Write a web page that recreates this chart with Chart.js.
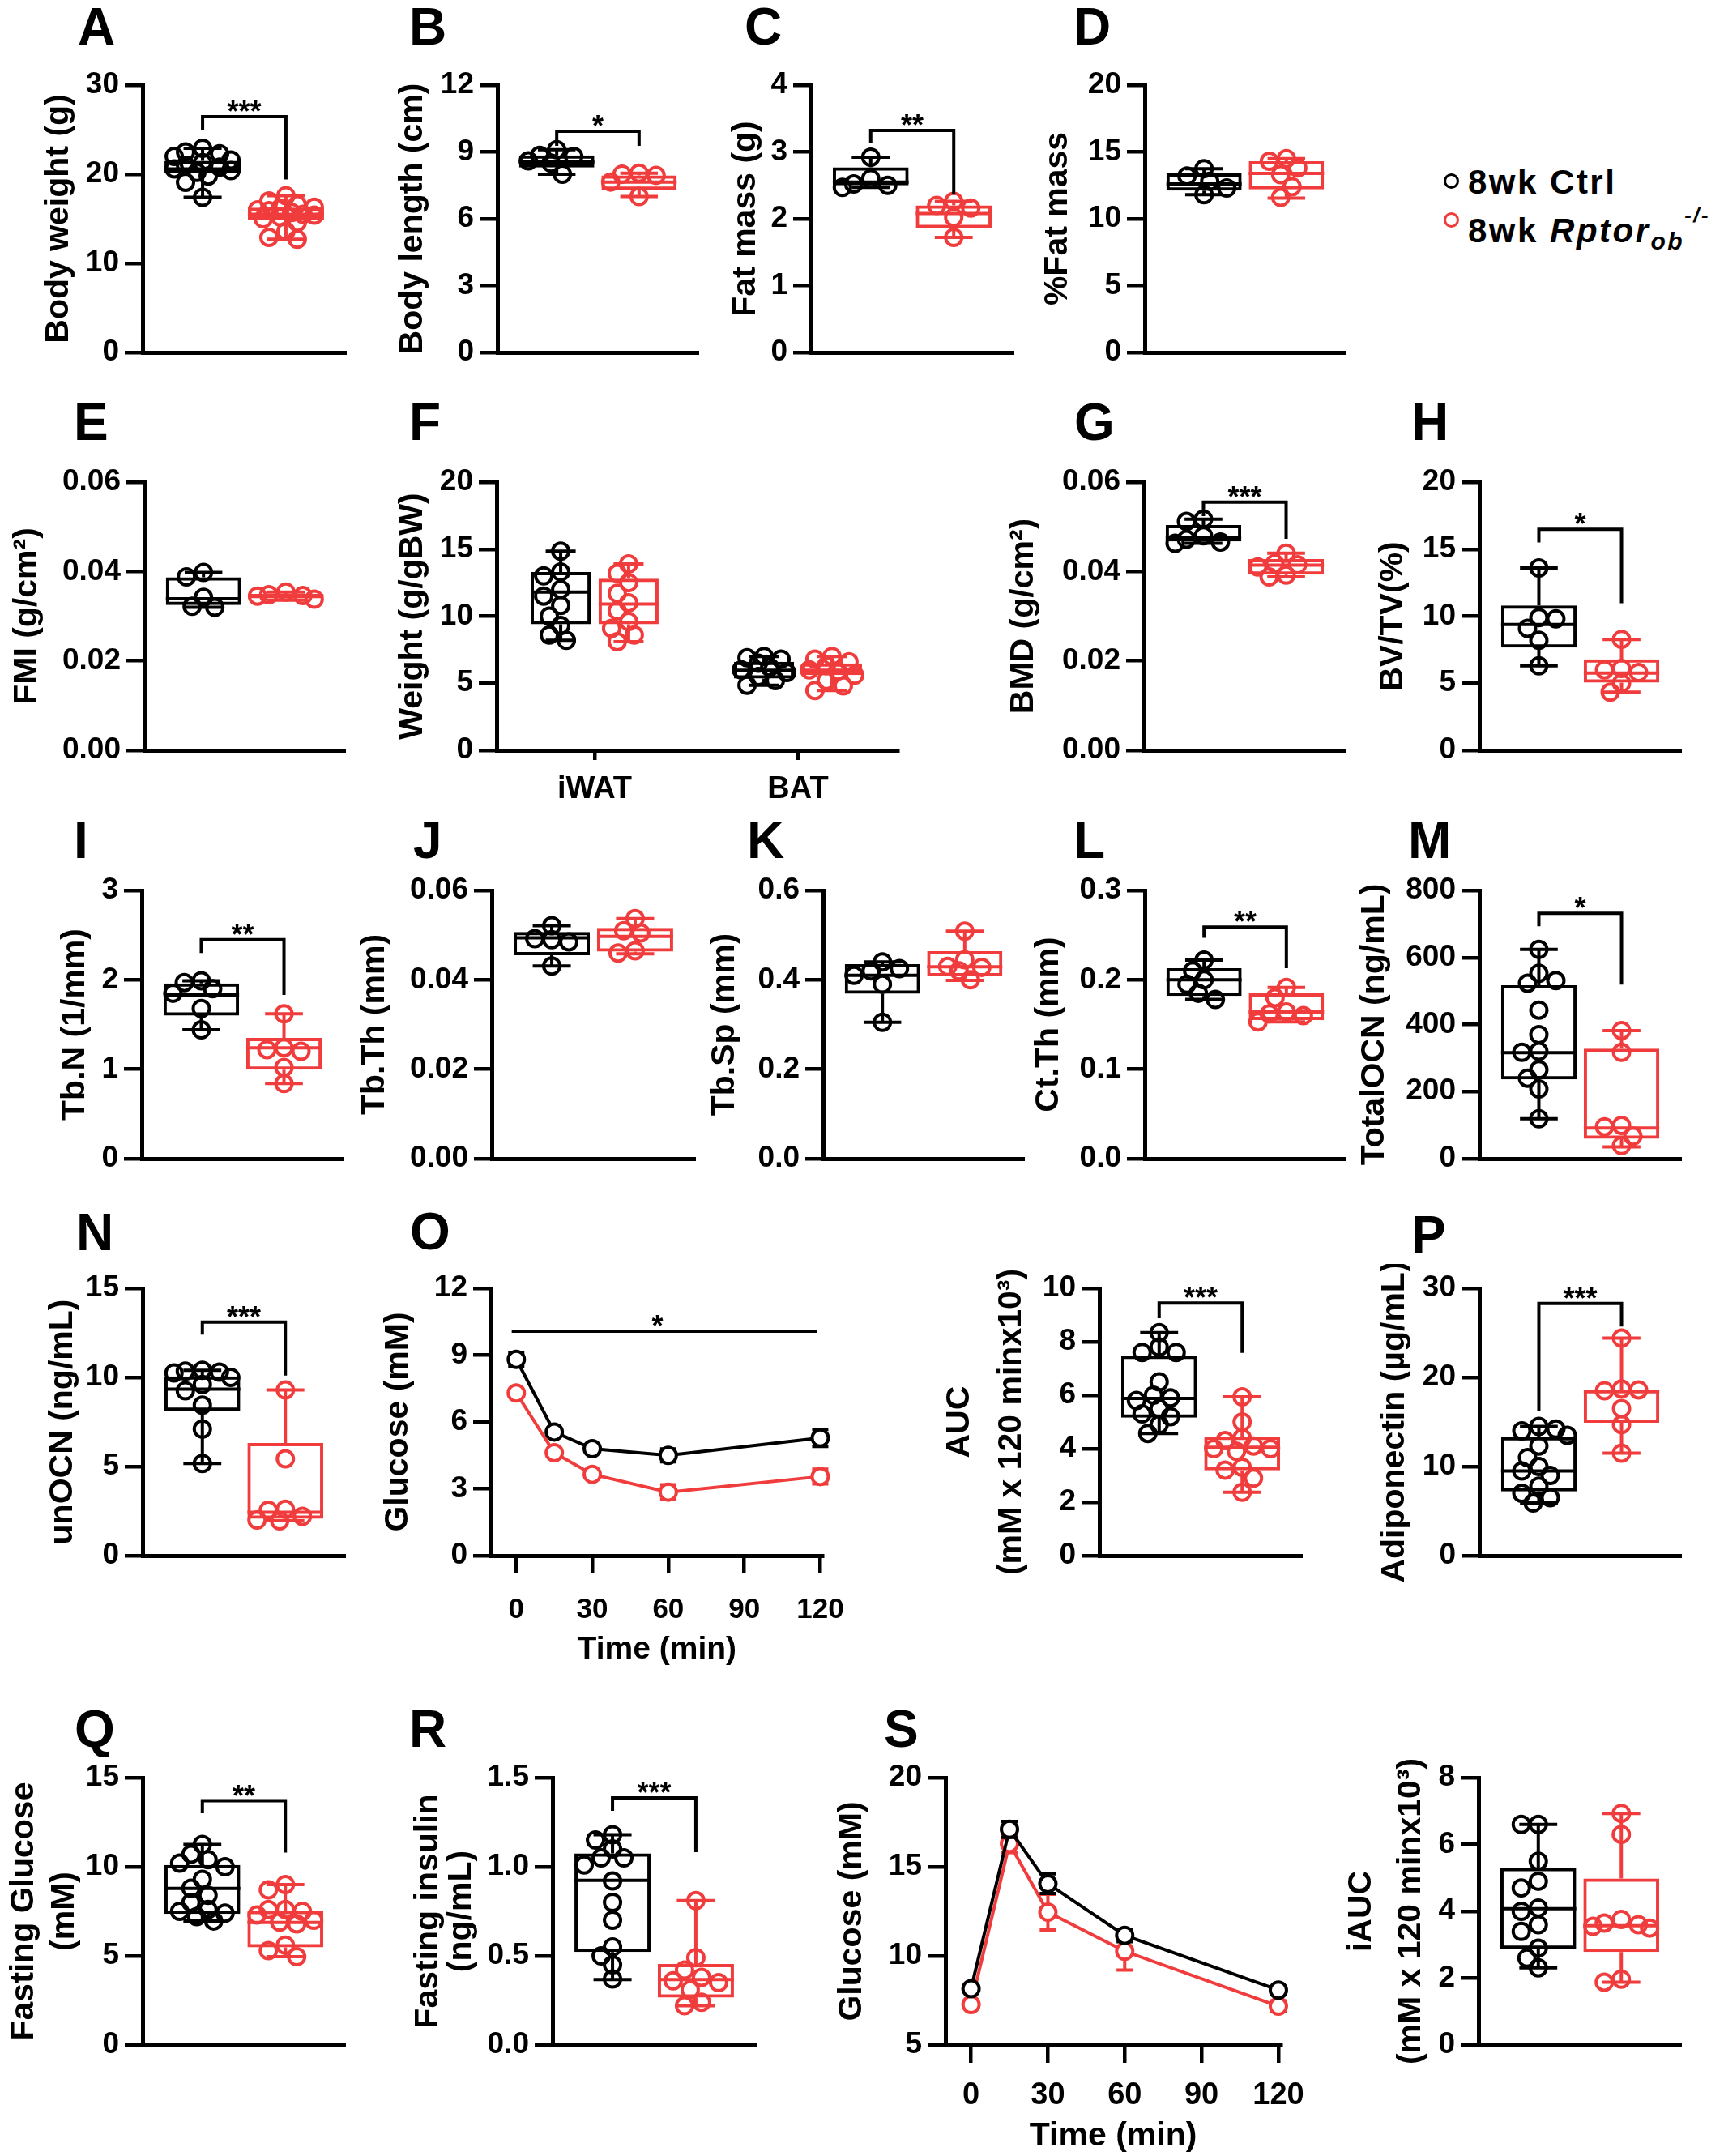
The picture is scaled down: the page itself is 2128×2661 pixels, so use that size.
<!DOCTYPE html>
<html><head><meta charset="utf-8">
<script src="https://cdn.jsdelivr.net/npm/chart.js@4.4.1/dist/chart.umd.min.js"></script>
<style>
html,body{margin:0;padding:0;background:#fff;}
#fig{position:relative;width:2128px;height:2661px;overflow:hidden;font-family:'Liberation Sans',Arial,Helvetica,sans-serif;background:#fff;}
.pl{position:absolute;font-weight:bold;font-size:64px;line-height:1;color:#000;}
canvas{position:absolute;}
.leg{position:absolute;font-weight:bold;font-size:42px;letter-spacing:2.5px;line-height:1;white-space:nowrap;color:#000;}
.dot{position:absolute;width:13px;height:13px;border:3px solid;border-radius:50%;}
</style></head><body><div id="fig"></div>
<script>
// ---------------- DATA ----------------
const GROUPS = ['8wk Ctrl', '8wk Rptor'];
// box stats arrays are [min, q1, median, q3, max]
const A_ctrl = [22.9, 22.5, 22.3, 22.0, 21.6, 21.3, 21.0, 20.8, 20.6, 20.4, 20.2, 19.8, 19.1, 17.4];
const A_ko = [17.6, 17.0, 16.6, 16.3, 16.2, 16.0, 15.9, 15.7, 15.5, 15.4, 15.2, 15.0, 14.6, 13.6, 12.9, 12.7];
const A_ctrlBox = [17.4, 20.1, 20.6, 21.5, 22.9];
const A_koBox = [12.7, 14.9, 15.5, 16.25, 17.6];
const A_ticks = [0, 10, 20, 30];

const B_ctrl = [9.1, 8.85, 8.8, 8.6, 8.5, 8.0];
const B_ko = [8.05, 8.0, 7.95, 7.65, 7.0];
const B_ctrlBox = [8.0, 8.3, 8.55, 8.85, 9.1];
const B_koBox = [7.0, 7.3, 7.65, 7.95, 8.05];
const B_ticks = [0, 3, 6, 9, 12];

const C_ctrl = [2.92, 2.6, 2.52, 2.5, 2.47];
const C_ko = [2.26, 2.2, 2.16, 2.02, 1.72];
const C_ctrlBox = [2.47, 2.5, 2.55, 2.77, 2.92];
const C_koBox = [1.72, 1.86, 2.08, 2.2, 2.26];
const C_ticks = [0, 1, 2, 3, 4];

const D_ctrl = [13.75, 13.2, 12.8, 12.3, 11.8];
const D_ko = [14.5, 14.3, 13.8, 13.3, 12.4, 11.6];
const D_ctrlBox = [11.8, 12.1, 12.6, 13.4, 13.75];
const D_koBox = [11.55, 12.2, 13.4, 14.3, 14.5];
const D_ticks = [0, 5, 10, 15, 20];

const E_ctrl = [0.0398, 0.0388, 0.0342, 0.0322, 0.0320];
const E_ko = [0.0354, 0.0348, 0.0346, 0.0345, 0.0338];
const E_ctrlBox = [0.0320, 0.0325, 0.0339, 0.0387, 0.0398];
const E_koBox = [0.0336, 0.0340, 0.0346, 0.0350, 0.0354];
const E_ticks = [0, 0.02, 0.04, 0.06];

const F_categories = ['iWAT', 'BAT'];
const F_iWAT_ctrl = [14.85, 13.3, 13.0, 12.0, 11.5, 10.8, 10.0, 9.3, 8.6, 8.2];
const F_iWAT_ko = [13.9, 13.2, 12.5, 11.7, 11.0, 10.4, 9.6, 9.1, 8.6, 8.1];
const F_BAT_ctrl = [7.0, 6.9, 6.8, 6.5, 6.2, 6.0, 5.8, 5.5, 5.2, 4.85];
const F_BAT_ko = [7.0, 6.8, 6.6, 6.3, 6.0, 5.9, 5.6, 5.2, 4.8, 4.45];
const F_iWAT_ctrlBox = [8.2, 9.4, 11.8, 13.3, 14.85];
const F_iWAT_koBox = [8.1, 9.4, 10.9, 12.8, 13.9];
const F_BAT_ctrlBox = [4.85, 5.35, 5.96, 6.6, 7.0];
const F_BAT_koBox = [4.45, 5.6, 5.96, 6.48, 7.0];
const F_ticks = [0, 5, 10, 15, 20];

const G_ctrl = [0.0517, 0.0512, 0.0480, 0.0472, 0.0466, 0.0463];
const G_ko = [0.0441, 0.0418, 0.0415, 0.0410, 0.0392, 0.0388];
const G_ctrlBox = [0.0463, 0.0467, 0.0475, 0.0504, 0.0517];
const G_koBox = [0.0388, 0.0393, 0.0414, 0.0428, 0.0441];
const G_ticks = [0, 0.02, 0.04, 0.06];

const H_ctrl = [9.9, 9.1, 13.6, 6.3, 9.8, 8.2];
const H_ko = [6.1, 8.27, 6.0, 5.8, 5.0, 4.33];
const H_ctrlBox = [6.3, 7.66, 9.38, 10.8, 13.6];
const H_koBox = [4.33, 5.05, 5.76, 6.78, 8.27];
const H_ticks = [0, 5, 10, 15, 20];

const I_ctrl = [1.99, 1.97, 1.9, 1.85, 1.68, 1.44];
const I_ko = [1.62, 1.24, 1.22, 1.2, 1.02, 0.84];
const I_ctrlBox = [1.44, 1.6, 1.83, 1.96, 1.99];
const I_koBox = [0.84, 0.995, 1.24, 1.35, 1.62];
const I_ticks = [0, 1, 2, 3];

const J_ctrl = [0.0521, 0.0490, 0.0492, 0.0485, 0.0431];
const J_ko = [0.0537, 0.0510, 0.0505, 0.0465, 0.0460];
const J_ctrlBox = [0.0431, 0.0455, 0.0494, 0.0507, 0.0521];
const J_koBox = [0.0458, 0.0463, 0.0497, 0.0516, 0.0537];
const J_ticks = [0, 0.02, 0.04, 0.06];

const K_ctrl = [0.44, 0.42, 0.425, 0.41, 0.39, 0.305];
const K_ko = [0.509, 0.445, 0.43, 0.428, 0.42, 0.40];
const K_ctrlBox = [0.305, 0.369, 0.41, 0.435, 0.44];
const K_koBox = [0.399, 0.408, 0.429, 0.464, 0.509];
const K_ticks = [0, 0.2, 0.4, 0.6];

const L_ctrl = [0.222, 0.21, 0.2, 0.195, 0.185, 0.178];
const L_ko = [0.1915, 0.18, 0.164, 0.162, 0.16, 0.153];
const L_ctrlBox = [0.178, 0.182, 0.2, 0.213, 0.222];
const L_koBox = [0.153, 0.155, 0.164, 0.185, 0.1915];
const L_ticks = [0, 0.1, 0.2, 0.3];

const M_ctrl = [624, 553, 523, 531, 443, 370, 320, 317, 265, 240, 208, 119];
const M_ko = [382, 317, 99, 95, 67, 39];
const M_ctrlBox = [119, 236, 316, 517, 624];
const M_koBox = [35, 59, 91, 328, 382];
const M_ticks = [0, 200, 400, 600, 800];

const N_ctrl = [10.4, 10.35, 10.3, 10.25, 10.0, 9.6, 9.25, 8.44, 7.1, 5.17];
const N_ko = [9.29, 5.43, 2.6, 2.55, 2.2, 2.0, 1.95];
const N_ctrlBox = [5.17, 8.12, 9.34, 10.06, 10.4];
const N_koBox = [1.95, 2.07, 2.43, 6.32, 9.29];
const N_ticks = [0, 5, 10, 15];

const O_time = [0, 15, 30, 60, 120];
const O_ctrlMean = [8.81, 5.55, 4.8, 4.5, 5.28];
const O_ctrlSem = [0.3, 0.15, 0.12, 0.29, 0.38];
const O_koMean = [7.3, 4.62, 3.65, 2.85, 3.55];
const O_koSem = [0.15, 0.15, 0.12, 0.33, 0.33];
const O_ticks = [0, 3, 6, 9, 12];
const O_timeTicks = [0, 30, 60, 90, 120];

const AUC_ctrl = [8.34, 7.8, 7.6, 7.6, 6.5, 6.0, 5.9, 5.8, 5.5, 5.3, 5.2, 4.9, 4.57];
const AUC_ko = [5.94, 5.0, 4.4, 4.3, 4.1, 4.0, 4.0, 3.9, 3.3, 3.2, 2.9, 2.37];
const AUC_ctrlBox = [4.57, 5.16, 5.88, 7.48, 8.34];
const AUC_koBox = [2.37, 3.19, 4.05, 4.45, 5.94];
const AUC_ticks = [0, 2, 4, 6, 8, 10];

const P_ctrl = [14.5, 14.0, 14.2, 13.5, 12.3, 11.0, 10.0, 9.5, 9.0, 7.8, 7.0, 6.5, 5.9];
const P_ko = [24.4, 18.7, 18.5, 18.6, 16.5, 14.7, 11.5];
const P_ctrlBox = [5.9, 7.2, 9.5, 13.3, 14.5];
const P_koBox = [11.5, 14.9, 18.4, 18.6, 24.4];
const P_ticks = [0, 10, 20, 30];

const Q_ctrl = [11.25, 10.7, 10.4, 10.2, 10.0, 9.3, 8.8, 8.4, 8.0, 7.6, 7.5, 7.4, 7.2, 6.96];
const Q_ko = [9.0, 8.7, 7.6, 7.6, 7.5, 7.3, 7.0, 6.9, 6.8, 5.6, 5.3, 4.95];
const Q_ctrlBox = [6.96, 7.35, 8.78, 10.1, 11.25];
const Q_koBox = [4.95, 5.48, 6.88, 7.52, 9.0];
const Q_ticks = [0, 5, 10, 15];

const R_ctrl = [1.18, 1.15, 1.1, 1.05, 1.05, 1.01, 0.92, 0.8, 0.7, 0.55, 0.5, 0.45, 0.37];
const R_ko = [0.81, 0.49, 0.42, 0.38, 0.36, 0.35, 0.31, 0.24, 0.22];
const R_ctrlBox = [0.367, 0.522, 0.924, 1.075, 1.18];
const R_koBox = [0.22, 0.266, 0.367, 0.455, 0.81];
const R_ticks = [0, 0.5, 1.0, 1.5];

const S_time = [0, 15, 30, 60, 120];
const S_ctrlMean = [8.16, 17.1, 14.05, 11.15, 8.08];
const S_ctrlSem = [0.15, 0.45, 0.55, 0.35, 0.15];
const S_koMean = [7.27, 16.3, 12.45, 10.26, 7.18];
const S_koSem = [0.15, 0.5, 1.0, 1.05, 0.3];
const S_ticks = [5, 10, 15, 20];
const S_timeTicks = [0, 30, 60, 90, 120];

const iAUC_ctrl = [6.6, 6.6, 5.5, 4.9, 4.7, 4.1, 4.0, 3.6, 3.4, 2.9, 2.6, 2.31];
const iAUC_ko = [6.93, 6.3, 3.76, 3.65, 3.6, 3.55, 3.5, 1.97, 1.88];
const iAUC_ctrlBox = [2.31, 2.88, 4.08, 5.3, 6.6];
const iAUC_koBox = [1.88, 2.78, 3.57, 4.98, 6.93];
const iAUC_ticks = [0, 2, 4, 6, 8];

// significance brackets: [top, left-leg end, right-leg end] in data units
const A_sig = ['***', [26.45, 24.9, 19.4]];
const B_sig = ['*', [9.93, 9.27, 9.27]];
const C_sig = ['**', [3.32, 3.13, 2.36]];
const G_sig = ['***', [0.0555, 0.0524, 0.0473]];
const H_sig = ['*', [16.48, 15.5, 10.97]];
const I_sig = ['**', [2.45, 2.3, 1.83]];
const L_sig = ['**', [0.259, 0.247, 0.213]];
const M_sig = ['*', [732, 693, 519]];
const N_sig = ['***', [13.1, 12.4, 10.1]];
const AUC_sig = ['***', [9.45, 8.88, 7.58]];
const P_sig = ['***', [28.3, 16.2, 25.7]];
const Q_sig = ['**', [13.7, 13.0, 10.8]];
const R_sig = ['***', [1.386, 1.314, 1.082]];
const O_sig = ['*', 10.07, [-1.8, 118.8], 55.7];

// ---------------- STYLE / LAYOUT ----------------
const BLACK = '#000000', RED = '#f03c3c';
const FAM = "'Liberation Sans', Arial, Helvetica, sans-serif";
const fig = document.getElementById('fig');
Chart.defaults.font.family = FAM;
Chart.defaults.color = '#000';

const LW = 4, AXW = 5, PR = 10, TICKF = 37;

function swarm(values, center, halfUnits, g) {
  const r = PR, minD = 2 * r - 3, step = 7;
  const maxOff = Math.max(0, halfUnits * g.xppu - 8);
  const cands = [0];
  for (let k = 1; k * step <= maxOff; k++) { cands.push(-k * step, k * step); }
  const placed = [], out = [];
  values.forEach(v => {
    const yp = v * g.yppu;
    let best = 0, bestScore = -1;
    for (const c of cands) {
      let md = Infinity;
      for (const p of placed) { const d = Math.hypot(p.x - c, p.y - yp); if (d < md) md = d; }
      if (md >= minD) { best = c; break; }
      if (md > bestScore) { bestScore = md; best = c; }
    }
    placed.push({x: best, y: yp});
    out.push({x: center + best / g.xppu, y: v});
  });
  return out;
}

function sigPlugin(items) {
  return {
    id: 'sig',
    afterDatasetsDraw(chart) {
      const ctx = chart.ctx, xs = chart.scales.x, ys = chart.scales.y;
      items.forEach(it => {
        ctx.save();
        ctx.strokeStyle = '#000'; ctx.lineWidth = LW; ctx.lineJoin = 'miter'; ctx.lineCap = 'butt';
        ctx.beginPath();
        let topY, cx;
        if (it.type === 'bracket') {
          const x1 = xs.getPixelForValue(it.x[0]), x2 = xs.getPixelForValue(it.x[1]);
          topY = ys.getPixelForValue(it.y[0]);
          ctx.moveTo(x1, ys.getPixelForValue(it.y[1]));
          ctx.lineTo(x1, topY);
          ctx.lineTo(x2, topY);
          ctx.lineTo(x2, ys.getPixelForValue(it.y[2]));
          cx = (x1 + x2) / 2;
        } else {
          topY = ys.getPixelForValue(it.y);
          ctx.moveTo(xs.getPixelForValue(it.x[0]), topY);
          ctx.lineTo(xs.getPixelForValue(it.x[1]), topY);
          cx = xs.getPixelForValue(it.tx);
        }
        ctx.stroke();
        ctx.fillStyle = '#000';
        ctx.font = 'bold 36px ' + FAM;
        ctx.textAlign = 'center';
        ctx.textBaseline = 'alphabetic';
        ctx.fillText(it.text, cx, topY + 6);
        ctx.restore();
      });
    }
  };
}

function yAxis(p, yAxisW, lhMul, padTop) {
  return {
    type: 'linear', position: 'left',
    min: p.ticks[0], max: p.ticks[p.ticks.length - 1],
    grid: {display: true, drawOnChartArea: false, drawTicks: true, tickLength: 22, tickWidth: 4.5, lineWidth: 4.5, color: '#000'},
    border: {display: true, width: AXW, color: '#000'},
    ticks: {color: '#000', padding: 7, font: {size: TICKF, weight: 'bold', family: FAM},
      callback: v => Number(v).toFixed(p.dec || 0)},
    afterBuildTicks: s => { s.ticks = p.ticks.map(v => ({value: v})); },
    afterFit: s => { s.width = yAxisW; },
    title: {display: true, text: p.title, color: '#000',
      font: {size: 41, weight: 'bold', family: FAM, lineHeight: lhMul},
      padding: {top: padTop, bottom: 0}}
  };
}

function buildPanel(p) {
  const lhMul = p.lh || 1.2;
  const lh = lhMul * 41;
  const cl = Math.round(p.titleX - lh / 2 - 4);
  const padTop = p.titleX - lh / 2 - cl;
  const PT = 30, PRt = 45, XH = p.xh || 30, PB = 2;
  const ct = p.T - PT;
  const cw = p.R - cl + PRt;
  const ch = PT + (p.B - p.T) + XH + PB;
  const yAxisW = p.L - cl;
  const cv = document.createElement('canvas');
  cv.width = cw; cv.height = ch;
  cv.style.left = cl + 'px'; cv.style.top = ct + 'px';
  cv.style.width = cw + 'px'; cv.style.height = ch + 'px';
  fig.appendChild(cv);

  const g = {xppu: (p.R - p.L) / (p.xMax - p.xMin), yppu: (p.B - p.T) / (p.ticks[p.ticks.length - 1] - p.ticks[0])};
  const datasets = [];
  const plugins = [];

  if (p.kind === 'box') {
    const half = p.boxRatio * p.minInt / 2;
    datasets.push({
      type: 'bar',
      data: p.groups.map(gr => ({x: gr.x, y: [gr.box[1], gr.box[3]]})),
      backgroundColor: 'rgba(0,0,0,0)',
      borderColor: p.groups.map(gr => gr.color),
      borderWidth: LW, borderSkipped: false, grouped: false,
      barPercentage: 1, categoryPercentage: p.boxRatio,
      order: 5, clip: false
    });
    p.groups.forEach(gr => {
      const c = gr.x, cw2 = half * 0.5;
      const [mn, q1, md, q3, mx] = gr.box;
      const gap = () => ({x: c, y: null});
      datasets.push({
        type: 'line',
        data: [{x: c - half, y: md}, {x: c + half, y: md}, gap(),
               {x: c, y: q3}, {x: c, y: mx}, gap(),
               {x: c - cw2, y: mx}, {x: c + cw2, y: mx}, gap(),
               {x: c, y: q1}, {x: c, y: mn}, gap(),
               {x: c - cw2, y: mn}, {x: c + cw2, y: mn}],
        borderColor: gr.color, borderWidth: LW, pointRadius: 0, spanGaps: false,
        fill: false, tension: 0, order: 4, clip: false
      });
      datasets.push({
        type: 'scatter',
        data: swarm(gr.pts, c, half, g),
        pointRadius: PR, pointBorderWidth: LW, pointBorderColor: gr.color,
        pointBackgroundColor: 'rgba(0,0,0,0)', pointHoverRadius: PR,
        order: gr.color === BLACK ? 1 : 2, clip: false
      });
    });
    if (p.sig) {
      plugins.push(sigPlugin([{type: 'bracket', x: [1, 2], y: p.sig[1], text: p.sig[0]}]));
    }
  } else {
    p.series.forEach((s, si) => {
      const err = [];
      s.time.forEach((t, i) => {
        const lo = s.mean[i] - s.sem[i], hi = s.mean[i] + s.sem[i];
        err.push({x: t, y: lo}, {x: t, y: hi}, {x: t, y: null},
                 {x: t - 3.2, y: hi}, {x: t + 3.2, y: hi}, {x: t, y: null},
                 {x: t - 3.2, y: lo}, {x: t + 3.2, y: lo}, {x: t, y: null});
      });
      datasets.push({
        type: 'line', data: s.time.map((t, i) => ({x: t, y: s.mean[i]})),
        borderColor: s.color, borderWidth: LW, pointRadius: PR, pointBorderWidth: LW,
        pointBorderColor: s.color, pointBackgroundColor: '#ffffff', pointHoverRadius: PR,
        fill: false, tension: 0, order: si * 2, clip: false
      });
      datasets.push({
        type: 'line', data: err, borderColor: s.color, borderWidth: LW, pointRadius: 0,
        spanGaps: false, fill: false, tension: 0, order: si * 2 + 1, clip: false
      });
    });
    if (p.sig) {
      plugins.push(sigPlugin([{type: 'line', y: p.sig[1], x: p.sig[2], tx: p.sig[3], text: p.sig[0]}]));
    }
  }

  let xAxis;
  if (p.kind === 'box') {
    xAxis = {
      type: 'linear', position: 'bottom', min: p.xMin, max: p.xMax, offset: false,
      grid: p.xLabels ? {display: true, drawOnChartArea: false, drawTicks: true, tickLength: 12, tickWidth: 4.5, lineWidth: 4.5, color: '#000', offset: false}
                      : {display: false, offset: false},
      border: {display: true, width: AXW, color: '#000'},
      ticks: p.xLabels ? {display: true, color: '#000', padding: 14, font: {size: 38, weight: 'bold', family: FAM},
                          callback: v => p.xLabels[Math.round(v) - 1]}
                       : {display: false},
      afterBuildTicks: s => { s.ticks = p.xTicks.map(v => ({value: v})); },
      afterFit: s => { s.height = XH; }
    };
  } else {
    xAxis = {
      type: 'linear', position: 'bottom', min: p.xMin, max: p.xMax, offset: false,
      grid: {display: true, drawOnChartArea: false, drawTicks: true, tickLength: 22, tickWidth: 4.5, lineWidth: 4.5, color: '#000', offset: false},
      border: {display: true, width: AXW, color: '#000'},
      ticks: {display: true, color: '#000', padding: p.xPad, font: {size: p.xFont, weight: 'bold', family: FAM}},
      afterBuildTicks: s => { s.ticks = p.xTicks.map(v => ({value: v})); },
      afterFit: s => { s.height = XH; },
      title: {display: true, text: 'Time (min)', color: '#000', font: {size: p.xTitleFont, weight: 'bold', family: FAM}, padding: {top: 0, bottom: 0}}
    };
  }

  new Chart(cv, {
    type: 'scatter',
    data: {datasets},
    options: {
      responsive: false, animation: false, devicePixelRatio: 1, events: [],
      layout: {padding: {top: PT, right: PRt, bottom: PB, left: 0}},
      plugins: {legend: {display: false}, tooltip: {enabled: false}, title: {display: false}},
      scales: {x: xAxis, y: yAxis(p, yAxisW, lhMul, padTop)}
    },
    plugins
  });
}

function twoGroup(ctrl, ctrlBox, ko, koBox) {
  return [{x: 1, pts: ctrl, box: ctrlBox, color: BLACK}, {x: 2, pts: ko, box: koBox, color: RED}];
}
const BOX2 = {kind: 'box', xMin: 0.28, xMax: 2.72, xTicks: [1, 2], minInt: 1, boxRatio: 0.914};

const R1 = {T: 105, B: 435}, R2 = {T: 595, B: 926}, R3 = {T: 1099, B: 1430}, R4 = {T: 1590, B: 1920}, R5 = {T: 2194, B: 2524};

const panels = [
  Object.assign({}, BOX2, R1, {L: 176, R: 427, titleX: 73, title: 'Body weight (g)', ticks: A_ticks, groups: twoGroup(A_ctrl, A_ctrlBox, A_ko, A_koBox), sig: A_sig}),
  Object.assign({}, BOX2, R1, {L: 614, R: 862, titleX: 510, title: 'Body length (cm)', ticks: B_ticks, groups: twoGroup(B_ctrl, B_ctrlBox, B_ko, B_koBox), sig: B_sig}),
  Object.assign({}, BOX2, R1, {L: 1001, R: 1251, titleX: 921, title: 'Fat mass (g)', ticks: C_ticks, groups: twoGroup(C_ctrl, C_ctrlBox, C_ko, C_koBox), sig: C_sig}),
  Object.assign({}, BOX2, R1, {L: 1413, R: 1661, titleX: 1306, title: '%Fat mass', ticks: D_ticks, groups: twoGroup(D_ctrl, D_ctrlBox, D_ko, D_koBox)}),

  Object.assign({}, BOX2, R2, {L: 178, R: 426, titleX: 34, title: 'FMI (g/cm\u00B2)', ticks: E_ticks, dec: 2, groups: twoGroup(E_ctrl, E_ctrlBox, E_ko, E_koBox)}),
  Object.assign({}, R2, {kind: 'box', L: 613, R: 1108, xMin: 0.518, xMax: 2.49, xTicks: [1, 2], xLabels: F_categories, minInt: 0.334, boxRatio: 0.884, xh: 80,
    titleX: 510, title: 'Weight (g/gBW)', ticks: F_ticks,
    groups: [{x: 0.833, pts: F_iWAT_ctrl, box: F_iWAT_ctrlBox, color: BLACK}, {x: 1.167, pts: F_iWAT_ko, box: F_iWAT_koBox, color: RED},
             {x: 1.833, pts: F_BAT_ctrl, box: F_BAT_ctrlBox, color: BLACK}, {x: 2.167, pts: F_BAT_ko, box: F_BAT_koBox, color: RED}]}),
  Object.assign({}, BOX2, R2, {L: 1412, R: 1661, titleX: 1264, title: 'BMD (g/cm\u00B2)', ticks: G_ticks, dec: 2, groups: twoGroup(G_ctrl, G_ctrlBox, G_ko, G_koBox), sig: G_sig}),
  Object.assign({}, BOX2, R2, {L: 1826, R: 2075, titleX: 1720, title: 'BV/TV(%)', ticks: H_ticks, groups: twoGroup(H_ctrl, H_ctrlBox, H_ko, H_koBox), sig: H_sig}),

  Object.assign({}, BOX2, R3, {L: 175, R: 424, titleX: 93, title: 'Tb.N (1/mm)', ticks: I_ticks, groups: twoGroup(I_ctrl, I_ctrlBox, I_ko, I_koBox), sig: I_sig}),
  Object.assign({}, BOX2, R3, {L: 607, R: 858, titleX: 463, title: 'Tb.Th (mm)', ticks: J_ticks, dec: 2, groups: twoGroup(J_ctrl, J_ctrlBox, J_ko, J_koBox)}),
  Object.assign({}, BOX2, R3, {L: 1016, R: 1264, titleX: 895, title: 'Tb.Sp (mm)', ticks: K_ticks, dec: 1, groups: twoGroup(K_ctrl, K_ctrlBox, K_ko, K_koBox)}),
  Object.assign({}, BOX2, R3, {L: 1413, R: 1661, titleX: 1295, title: 'Ct.Th (mm)', ticks: L_ticks, dec: 1, groups: twoGroup(L_ctrl, L_ctrlBox, L_ko, L_koBox), sig: L_sig}),
  Object.assign({}, BOX2, R3, {L: 1826, R: 2075, titleX: 1697, title: 'TotalOCN (ng/mL)', ticks: M_ticks, groups: twoGroup(M_ctrl, M_ctrlBox, M_ko, M_koBox), sig: M_sig}),

  Object.assign({}, BOX2, R4, {L: 176, R: 426, titleX: 78, title: 'unOCN (ng/mL)', ticks: N_ticks, groups: twoGroup(N_ctrl, N_ctrlBox, N_ko, N_koBox), sig: N_sig}),
  Object.assign({}, R4, {kind: 'line', L: 606, R: 1021, xMin: -10, xMax: 121, xTicks: O_timeTicks, xh: 140, xPad: 24, xFont: 35, xTitleFont: 39,
    titleX: 492, title: 'Glucose (mM)', ticks: O_ticks, sig: O_sig,
    series: [{time: O_time, mean: O_ctrlMean, sem: O_ctrlSem, color: BLACK}, {time: O_time, mean: O_koMean, sem: O_koSem, color: RED}]}),
  Object.assign({}, BOX2, R4, {L: 1357, R: 1607, titleX: 1185, lh: 1.56, title: ['AUC', '(mM x 120 minx10\u00B3)'], ticks: AUC_ticks, groups: twoGroup(AUC_ctrl, AUC_ctrlBox, AUC_ko, AUC_koBox), sig: AUC_sig}),
  Object.assign({}, BOX2, R4, {L: 1826, R: 2075, titleX: 1722, title: 'Adiponectin (\u00B5g/mL)', ticks: P_ticks, groups: twoGroup(P_ctrl, P_ctrlBox, P_ko, P_koBox), sig: P_sig}),

  Object.assign({}, BOX2, R5, {L: 176, R: 426, titleX: 30, lh: 1.22, title: ['Fasting Glucose', '(mM)'], ticks: Q_ticks, groups: twoGroup(Q_ctrl, Q_ctrlBox, Q_ko, Q_koBox), sig: Q_sig}),
  Object.assign({}, BOX2, R5, {L: 682, R: 933, titleX: 529, lh: 1.0, title: ['Fasting insulin', '(ng/mL)'], ticks: R_ticks, dec: 1, groups: twoGroup(R_ctrl, R_ctrlBox, R_ko, R_koBox), sig: R_sig}),
  Object.assign({}, R5, {kind: 'line', L: 1167, R: 1583, xMin: -10, xMax: 121, xTicks: S_timeTicks, xh: 137, xPad: 18, xFont: 38, xTitleFont: 41,
    titleX: 1052, title: 'Glucose (mM)', ticks: S_ticks,
    series: [{time: S_time, mean: S_ctrlMean, sem: S_ctrlSem, color: BLACK}, {time: S_time, mean: S_koMean, sem: S_koSem, color: RED}]}),
  Object.assign({}, BOX2, R5, {L: 1825, R: 2075, titleX: 1681, lh: 1.49, title: ['iAUC', '(mM x 120 minx10\u00B3)'], ticks: iAUC_ticks, groups: twoGroup(iAUC_ctrl, iAUC_ctrlBox, iAUC_ko, iAUC_koBox)})
];
panels.forEach(buildPanel);

// panel letters
const letters = [
  ['A', 96, 9], ['B', 505, 9], ['C', 919, 9], ['D', 1325, 9],
  ['E', 91, 497], ['F', 505, 497], ['G', 1326, 497], ['H', 1742, 497],
  ['I', 91, 1013], ['J', 510, 1013], ['K', 922, 1013], ['L', 1325, 1013], ['M', 1738, 1013],
  ['N', 94, 1497], ['O', 506, 1496], ['P', 1742, 1500],
  ['Q', 92, 2110], ['R', 505, 2110], ['S', 1091, 2110]
];
letters.forEach(([t, x, y]) => {
  const d = document.createElement('div');
  d.className = 'pl'; d.textContent = t;
  d.style.left = x + 'px'; d.style.top = (y - 8.4) + 'px';
  fig.appendChild(d);
});

// legend
fig.insertAdjacentHTML('beforeend',
  '<div class="dot" style="left:1782px;top:214px;border-color:' + BLACK + '"></div>' +
  '<div class="leg" style="left:1812px;top:204px;">' + GROUPS[0] + '</div>' +
  '<div class="dot" style="left:1782px;top:262px;border-color:' + RED + '"></div>' +
  '<div class="leg" style="left:1812px;top:252px;">8wk <i>Rptor<span style="font-size:30px;vertical-align:-9px;">ob</span><span style="font-size:26px;vertical-align:25px;">-/-</span></i></div>');
</script></body></html>
